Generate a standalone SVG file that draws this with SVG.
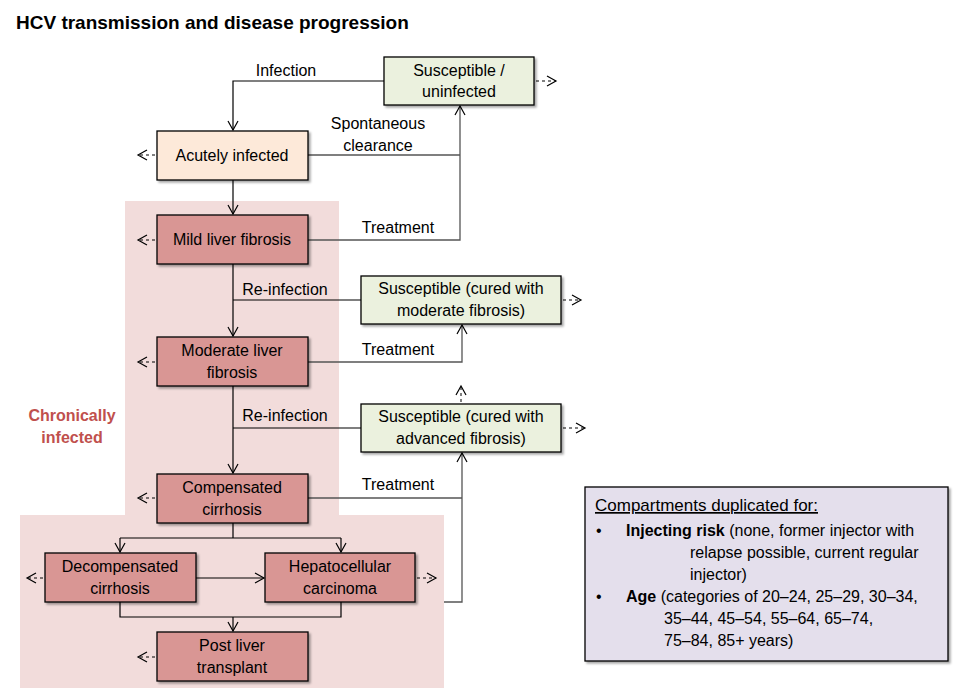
<svg xmlns="http://www.w3.org/2000/svg" width="961" height="700" viewBox="0 0 961 700">
<style>
text{font-family:"Liberation Sans",Arial,sans-serif;font-size:16px;fill:#000}
.c{text-anchor:middle}
.box{stroke:#000;stroke-width:1.3}
.g{fill:#ebf1de}.a{fill:#fde9d9}.d{fill:#d99694}
.sh{fill:#999;opacity:.6}
.ln{fill:none;stroke:#000;stroke-width:1.2}
.gl{fill:none;stroke:#555;stroke-width:1.3}
.ds{fill:none;stroke:#000;stroke-width:1;stroke-dasharray:3,3}
</style>
<defs>
<marker id="ar" markerWidth="12" markerHeight="12" refX="10" refY="6" orient="auto" markerUnits="userSpaceOnUse"><path d="M1,1 L10,6 L1,11" fill="none" stroke="#000" stroke-width="1.2"/></marker>
<filter id="s" x="-10%" y="-10%" width="130%" height="140%"><feDropShadow dx="2" dy="2" stdDeviation="1.2" flood-color="#000" flood-opacity="0.35"/></filter>
</defs>
<rect width="961" height="700" fill="#fff"/>
<text x="16" y="29" style="font-size:19px;font-weight:bold">HCV transmission and disease progression</text>
<path d="M125,201 H339 V515 H444 V688 H20 V515 H125 Z" fill="#f2dcdb"/>
<text x="72" y="421" class="c" style="font-weight:bold;fill:#c0504d">Chronically</text>
<text x="72" y="443" class="c" style="font-weight:bold;fill:#c0504d">infected</text>
<g id="connectors">
<path class="ln" d="M384,81 H233 V130" marker-end="url(#ar)"/>
<path class="ln" d="M308,155 H460"/>
<path class="gl" d="M308,240 H460 V106" marker-end="url(#ar)"/>
<path class="ln" d="M233,180 V214" marker-end="url(#ar)"/>
<path class="ln" d="M233,264 V336" marker-end="url(#ar)"/>
<path class="ln" d="M361,300 H233"/>
<path class="gl" d="M308,362 H462 V325" marker-end="url(#ar)"/>
<path class="ln" d="M233,386 V473" marker-end="url(#ar)"/>
<path class="ln" d="M361,428 H233"/>
<path class="gl" d="M308,498 H462"/>
<path class="gl" d="M444,602 H462 V453" marker-end="url(#ar)"/>
<path class="ln" d="M233,523 V538 M120,538 H341"/>
<path class="ln" d="M120,538 V552" marker-end="url(#ar)"/>
<path class="ln" d="M341,538 V552" marker-end="url(#ar)"/>
<path class="ln" d="M196,578 H264" marker-end="url(#ar)"/>
<path class="ln" d="M120,602 V617 H341 V602"/>
<path class="ln" d="M233,617 V631" marker-end="url(#ar)"/>
<path class="ds" d="M536,81 H556" marker-end="url(#ar)"/>
<path class="ds" d="M155,155 H138" marker-end="url(#ar)"/>
<path class="ds" d="M155,240 H138" marker-end="url(#ar)"/>
<path class="ds" d="M155,362 H138" marker-end="url(#ar)"/>
<path class="ds" d="M155,498 H138" marker-end="url(#ar)"/>
<path class="ds" d="M155,657 H138" marker-end="url(#ar)"/>
<path class="ds" d="M43,578 H27" marker-end="url(#ar)"/>
<path class="ds" d="M417,578 H436" marker-end="url(#ar)"/>
<path class="ds" d="M563,300 H581" marker-end="url(#ar)"/>
<path class="ds" d="M563,428 H585" marker-end="url(#ar)"/>
<path class="ds" d="M461,402 V386" marker-end="url(#ar)"/>
<text x="286" y="76" class="c">Infection</text>
<text x="378" y="129" class="c">Spontaneous</text>
<text x="378" y="151" class="c">clearance</text>
<text x="398" y="233" class="c">Treatment</text>
<text x="285" y="295" class="c">Re-infection</text>
<text x="398" y="355" class="c">Treatment</text>
<text x="285" y="421" class="c">Re-infection</text>
<text x="398" y="490" class="c">Treatment</text>
</g>
<g id="susceptible"><rect class="box g" filter="url(#s)" x="384" y="57" width="150" height="48"/><text x="459" y="76" class="c">Susceptible /</text><text x="459" y="97" class="c">uninfected</text></g>
<g id="acute"><rect class="box a" filter="url(#s)" x="157" y="131" width="151" height="49"/><text x="232" y="161" class="c">Acutely infected</text></g>
<g id="mild"><rect class="box d" filter="url(#s)" x="157" y="215" width="151" height="49"/><text x="232" y="245" class="c">Mild liver fibrosis</text></g>
<g id="susc-mod"><rect class="box g" filter="url(#s)" x="361" y="276" width="200" height="48"/><text x="461" y="294" class="c">Susceptible (cured with</text><text x="461" y="316" class="c">moderate fibrosis)</text></g>
<g id="moderate"><rect class="box d" filter="url(#s)" x="157" y="337" width="151" height="49"/><text x="232" y="356" class="c">Moderate liver</text><text x="232" y="378" class="c">fibrosis</text></g>
<g id="susc-adv"><rect class="box g" filter="url(#s)" x="361" y="404" width="200" height="48"/><text x="461" y="422" class="c">Susceptible (cured with</text><text x="461" y="444" class="c">advanced fibrosis)</text></g>
<g id="compensated"><rect class="box d" filter="url(#s)" x="157" y="474" width="151" height="49"/><text x="232" y="493" class="c">Compensated</text><text x="232" y="515" class="c">cirrhosis</text></g>
<g id="decompensated"><rect class="box d" filter="url(#s)" x="45" y="553" width="151" height="49"/><text x="120" y="572" class="c">Decompensated</text><text x="120" y="594" class="c">cirrhosis</text></g>
<g id="hcc"><rect class="box d" filter="url(#s)" x="265" y="553" width="150" height="49"/><text x="340" y="572" class="c">Hepatocellular</text><text x="340" y="594" class="c">carcinoma</text></g>
<g id="transplant"><rect class="box d" filter="url(#s)" x="157" y="632" width="151" height="49"/><text x="232" y="651" class="c">Post liver</text><text x="232" y="673" class="c">transplant</text></g>
<g id="legend">
<rect x="585" y="487" width="363" height="174" fill="#e4dfec" stroke="#000" stroke-width="1.3" filter="url(#s)"/>
<text x="595" y="511" style="font-size:17px;text-decoration:underline">Compartments  duplicated for:</text>
<text x="596" y="536">•</text>
<text x="626" y="536"><tspan font-weight="bold">Injecting risk</tspan> (none, former injector with</text>
<text x="690" y="558">relapse possible, current regular</text>
<text x="690" y="580">injector)</text>
<text x="596" y="602">•</text>
<text x="626" y="602"><tspan font-weight="bold">Age</tspan> (categories of 20–24, 25–29, 30–34,</text>
<text x="664" y="624">35–44, 45–54, 55–64, 65–74,</text>
<text x="664" y="646">75–84, 85+ years)</text>
</g>
</svg>
